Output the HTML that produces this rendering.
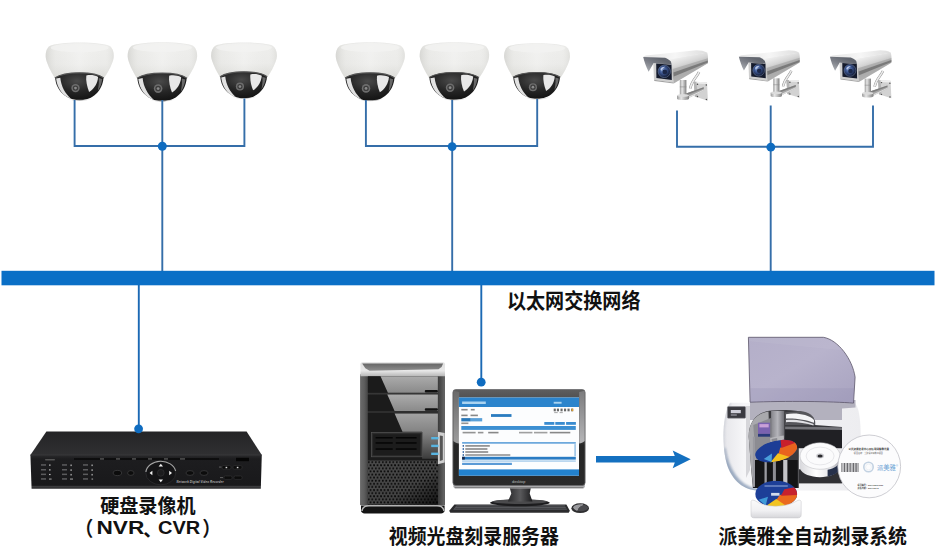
<!DOCTYPE html>
<html lang="zh-CN">
<head>
<meta charset="utf-8">
<title>以太网交换网络</title>
<style>
html,body{margin:0;padding:0;background:#fff;}
body{width:936px;height:557px;overflow:hidden;position:relative;font-family:"Liberation Sans","Noto Sans CJK SC",sans-serif;}
svg{position:absolute;left:0;top:0;display:block;}
.lbl text{font-family:"Liberation Sans","Noto Sans CJK SC",sans-serif;font-weight:bold;fill:#111;}
</style>
</head>
<body>
<svg width="936" height="557" viewBox="0 0 936 557">
<defs>
<linearGradient id="domeBody" x1="0" y1="0" x2="0" y2="1">
  <stop offset="0" stop-color="#e6e6e4"/>
  <stop offset="0.12" stop-color="#eeeeec"/>
  <stop offset="0.6" stop-color="#ebebe9"/>
  <stop offset="1" stop-color="#dcdcd8"/>
</linearGradient>
<linearGradient id="domeBodyH" x1="0" y1="0" x2="1" y2="0">
  <stop offset="0" stop-color="#c8c8c4" stop-opacity="0.6"/>
  <stop offset="0.15" stop-color="#e0e0dc" stop-opacity="0.2"/>
  <stop offset="0.5" stop-color="#ffffff" stop-opacity="0.25"/>
  <stop offset="0.85" stop-color="#f0f0ee" stop-opacity="0"/>
  <stop offset="1" stop-color="#d0d0cc" stop-opacity="0.45"/>
</linearGradient>
<radialGradient id="domeGlass" cx="0.45" cy="0.3" r="0.75">
  <stop offset="0" stop-color="#4a4a4a"/>
  <stop offset="0.5" stop-color="#262626"/>
  <stop offset="1" stop-color="#101010"/>
</radialGradient>
<g id="dome">
  <!-- body -->
  <path d="M-30 3.5C-22 -1.2 22 -1.2 30 3.5C33 5.5 34.3 10 34 14.5C33.5 20 29 29 24 36L-24.5 36C-29 29 -33.5 20 -34 14.5C-34.3 10 -33 5.5 -30 3.5Z" fill="url(#domeBody)"/>
  <path d="M-30 3.5C-22 -1.2 22 -1.2 30 3.5C33 5.5 34.3 10 34 14.5C33.5 20 29 29 24 36L-24.5 36C-29 29 -33.5 20 -34 14.5C-34.3 10 -33 5.5 -30 3.5Z" fill="url(#domeBodyH)"/>
  <!-- top face -->
  <ellipse cx="0" cy="5.2" rx="29" ry="4.6" fill="#f3f3f1" opacity="0.8"/>
  <!-- glass dome -->
  <path d="M-24.5 35C-15 28.5 15 28.5 23.8 35C23 48 13 57.8 0 57.8C-13 57.8 -24 48 -24.5 35Z" fill="url(#domeGlass)"/>
  <!-- rim -->
  <path d="M-24.8 35.3C-15 28.6 15 28.6 24 35.3" fill="none" stroke="#555" stroke-width="1.2"/>
  <!-- left highlight -->
  <path d="M-23.6 36C-22.6 45.5 -17 53.5 -8.5 56.4C-14.5 51 -18.5 44 -19.4 35.2Z" fill="#ececec" opacity="0.95"/>
  <!-- right reflection -->
  <path d="M6.6 33C10.5 32 15 32.6 18.4 34.4C18 40.4 14.4 46.6 9.4 49.4C7.4 44.6 6 38 6.6 33Z" fill="#f2f2f2" opacity="0.95"/>
  <path d="M19 35.5L22.5 36.5C22 41 20.5 45 18 48.5C19 44 19.5 39 19 35.5Z" fill="#999" opacity="0.6"/>
  <!-- lens -->
  <circle cx="-4.2" cy="45.5" r="4.2" fill="#6d6d6d"/>
  <circle cx="-4.2" cy="45.5" r="2.7" fill="#3c3c3c"/>
  <circle cx="-4.2" cy="45.5" r="1.4" fill="#8a8a8a"/>
  <!-- bottom highlight -->
  <path d="M-12 56.3C-5 59 6 59 13 55.8C6 57.5 -5 57.8 -12 56.3Z" fill="#cfcfcf" opacity="0.8"/>
</g>

<linearGradient id="bSide" gradientUnits="userSpaceOnUse" x1="50" y1="15" x2="56.5" y2="34">
  <stop offset="0" stop-color="#eeeeee"/>
  <stop offset="0.35" stop-color="#d8d8d8"/>
  <stop offset="0.7" stop-color="#b8b8b8"/>
  <stop offset="1" stop-color="#c8c8c8"/>
</linearGradient>
<linearGradient id="bTop" x1="0" y1="0" x2="1" y2="0">
  <stop offset="0" stop-color="#e4e4e4"/>
  <stop offset="0.5" stop-color="#f6f6f6"/>
  <stop offset="1" stop-color="#dedede"/>
</linearGradient>
<linearGradient id="bPole" x1="0" y1="0" x2="1" y2="0">
  <stop offset="0" stop-color="#9a9a9a"/>
  <stop offset="0.35" stop-color="#e6e6e6"/>
  <stop offset="0.7" stop-color="#b0b0b0"/>
  <stop offset="1" stop-color="#808080"/>
</linearGradient>
<linearGradient id="bHood" gradientUnits="userSpaceOnUse" x1="20" y1="17" x2="14" y2="31">
  <stop offset="0" stop-color="#62666f"/><stop offset="0.5" stop-color="#7d8088"/><stop offset="1" stop-color="#a4a7ad"/>
</linearGradient>
<radialGradient id="bLens" cx="0.4" cy="0.4" r="0.6">
  <stop offset="0" stop-color="#7f9bd0"/>
  <stop offset="0.45" stop-color="#3b5590"/>
  <stop offset="1" stop-color="#141c34"/>
</radialGradient>
<g id="bullet">
  <!-- wall plate -->
  <path d="M57.7 41.7L71 42.2L71.9 60.8L58.8 56.6Z" fill="#d2d2d2"/>
  <path d="M57.7 41.7L71 42.2L71.1 44L57.9 43.5Z" fill="#eeeeee"/>
  <path d="M57.7 41.7L60.5 41.8L61.5 57.5L58.8 56.6Z" fill="#b4b4b4"/>
  <circle cx="61.5" cy="44.2" r="0.75" fill="#4a4a4a"/><circle cx="70.3" cy="44.9" r="0.75" fill="#4a4a4a"/>
  <circle cx="61.5" cy="56.6" r="0.75" fill="#4a4a4a"/><circle cx="70.4" cy="59.4" r="0.75" fill="#4a4a4a"/>
  <!-- arm -->
  <path d="M50 53.4L67.7 47.2L67.9 50.4L52.7 58Z" fill="#a6a6a6"/>
  <path d="M50 53.4L67.7 47.2L67.8 48.6L50.6 55.2Z" fill="#7e7e7e"/>
  <path d="M51.8 57L67.9 49.6L67.9 50.4L52.7 58Z" fill="#e0e0e0"/>
  <!-- cable -->
  <path d="M63 32C61 37 55.8 40 54.2 48.6" fill="none" stroke="#8e8e8e" stroke-width="2.6"/>
  <path d="M63 32C61 37 55.8 40 54.2 48.6" fill="none" stroke="#ececec" stroke-width="1.7"/>
  <!-- pole -->
  <rect x="43.8" y="40" width="6.6" height="17" fill="url(#bPole)"/>
  <path d="M41 55.5h12v3.2c0 1.7-12 1.7-12 0z" fill="url(#bPole)"/>
  <ellipse cx="47" cy="55.5" rx="6" ry="1.5" fill="#dcdcdc"/>
  <rect x="43.8" y="46.5" width="6.6" height="0.8" fill="#8a8a8a" opacity="0.7"/>
  <!-- body side -->
  <path d="M33.3 19L71.2 12.6C72.2 16 72.2 19.5 71.8 23.2L38 43.3L35.8 42Z" fill="url(#bSide)"/>
  <path d="M36.6 29L71.9 18.2L71.8 23.2L38 43.3L37 37Z" fill="#9a9a9a" opacity="0.55"/>
  <path d="M37.4 32.6L71.9 20.4L71.8 22.6L37.8 36.6Z" fill="#6e6e6e" opacity="0.8"/>
  <!-- top -->
  <path d="M7.2 17C8 16.2 9 15.8 10 15.6L60.3 10.2C64 10.2 69 11 71.2 12.7L33.5 19.4Z" fill="url(#bTop)"/>
  <!-- hood inside -->
  <path d="M7.2 17L29.1 17.7C31.5 18.6 33.8 20 34.9 21.6L35.7 24.8L17.4 23.4L12.6 31.7C10.2 27 8.2 21.5 7.2 17Z" fill="url(#bHood)"/>
  <!-- front frame -->
  <path d="M17.3 23.3L35.7 24.6L37.4 42.6L18 39.8Z" fill="#cfcfcf"/>
  <path d="M18 39.8L37.4 42.6L37.8 43.5L18.4 40.9Z" fill="#a2a2a2"/>
  <!-- lens window -->
  <path d="M20.2 23.6L35.5 24.7L35.8 40L20.4 38Z" fill="#141a2c"/>
  <circle cx="28.3" cy="31.4" r="6.2" fill="url(#bLens)"/>
  <circle cx="28.3" cy="31.4" r="6.2" fill="none" stroke="#8aa0cc" stroke-width="0.6" opacity="0.7"/>
  <circle cx="28.8" cy="31.9" r="2.4" fill="#1b2748"/>
  <path d="M24.4 29C25.4 27.2 27.6 26.4 29.4 26.8C27.8 27.8 26.2 29.2 25.2 31Z" fill="#d4e0f6" opacity="0.8"/>
</g>

<linearGradient id="dvrTop" x1="0" y1="0" x2="0" y2="1">
  <stop offset="0" stop-color="#242426"/>
  <stop offset="1" stop-color="#303032"/>
</linearGradient>
<linearGradient id="dvrFront" x1="0" y1="0" x2="0" y2="1">
  <stop offset="0" stop-color="#2a2a2c"/>
  <stop offset="0.12" stop-color="#1d1d1f"/>
  <stop offset="0.9" stop-color="#19191b"/>
  <stop offset="0.93" stop-color="#3c3c3e"/>
  <stop offset="1" stop-color="#2a2a2c"/>
</linearGradient>

<linearGradient id="pcSilver" x1="0" y1="0" x2="0" y2="1">
  <stop offset="0" stop-color="#8a8a8a"/><stop offset="0.5" stop-color="#e2e2e2"/><stop offset="1" stop-color="#9a9a9a"/>
</linearGradient>
<linearGradient id="pcBody" x1="0" y1="0" x2="0" y2="1">
  <stop offset="0" stop-color="#3a3a3a"/><stop offset="1" stop-color="#1e1e1e"/>
</linearGradient>
<linearGradient id="pcEdgeL" x1="0" y1="0" x2="1" y2="0">
  <stop offset="0" stop-color="#6a6a6a"/><stop offset="0.5" stop-color="#5e5e5e"/><stop offset="1" stop-color="#444"/>
</linearGradient>
<linearGradient id="pcEdgeR" x1="0" y1="0" x2="1" y2="0">
  <stop offset="0" stop-color="#3a3a3a"/><stop offset="0.6" stop-color="#555"/><stop offset="1" stop-color="#6a6a6a"/>
</linearGradient>
<linearGradient id="pcCap" x1="0" y1="0" x2="0" y2="1">
  <stop offset="0" stop-color="#e0e0e0"/><stop offset="0.6" stop-color="#e8e8e8"/><stop offset="1" stop-color="#b8b8b8"/>
</linearGradient>
<linearGradient id="pcBay" x1="0" y1="0" x2="0" y2="1">
  <stop offset="0" stop-color="#ababab"/><stop offset="1" stop-color="#8a8a8a"/>
</linearGradient>
<linearGradient id="pcBay2" x1="0" y1="0" x2="0" y2="1">
  <stop offset="0" stop-color="#a2a2a2"/><stop offset="0.45" stop-color="#808080"/><stop offset="1" stop-color="#3c3c3c"/>
</linearGradient>
<pattern id="pcMesh" x="367.9" y="460.6" width="3.5" height="6.2" patternUnits="userSpaceOnUse">
  <rect width="3.5" height="6.2" fill="#4b4b4b"/>
  <circle cx="0.9" cy="1.55" r="1" fill="#0a0a0a"/>
  <circle cx="2.65" cy="4.65" r="1" fill="#0a0a0a"/>
</pattern>
<linearGradient id="pcMeshShade" x1="0" y1="0" x2="1" y2="1">
  <stop offset="0" stop-color="#000" stop-opacity="0"/><stop offset="0.6" stop-color="#000" stop-opacity="0.1"/><stop offset="1" stop-color="#000" stop-opacity="0.75"/>
</linearGradient>
<linearGradient id="pcBowl" x1="0" y1="0" x2="0" y2="1">
  <stop offset="0" stop-color="#666"/><stop offset="1" stop-color="#8e8e8e"/>
</linearGradient>
<linearGradient id="monNeck" x1="0" y1="0" x2="1" y2="0">
  <stop offset="0" stop-color="#2a2a2c"/><stop offset="0.5" stop-color="#5a5a5c"/><stop offset="1" stop-color="#1c1c1e"/>
</linearGradient>
<linearGradient id="monBezel" x1="0" y1="0" x2="0" y2="1">
  <stop offset="0" stop-color="#5e5e5e"/><stop offset="0.1" stop-color="#505050"/><stop offset="0.5" stop-color="#4a4a4a"/><stop offset="0.58" stop-color="#262626"/><stop offset="1" stop-color="#2a2a2a"/>
</linearGradient>
<linearGradient id="monGlossL" x1="0" y1="0" x2="0" y2="1">
  <stop offset="0" stop-color="#6a6a6a"/><stop offset="1" stop-color="#9c9c9c"/>
</linearGradient>
<linearGradient id="monGloss" x1="0" y1="0" x2="0" y2="1">
  <stop offset="0" stop-color="#7c7c7e"/><stop offset="1" stop-color="#b6b6b8"/>
</linearGradient>

<linearGradient id="prBody" x1="0" y1="0" x2="1" y2="0">
  <stop offset="0" stop-color="#e6e6ea"/><stop offset="0.15" stop-color="#f6f6f8"/><stop offset="1" stop-color="#ededf0"/>
</linearGradient>
<linearGradient id="prPillar" x1="0" y1="0" x2="1" y2="0">
  <stop offset="0" stop-color="#86868c"/><stop offset="0.5" stop-color="#b4b4ba"/><stop offset="1" stop-color="#6c6c72"/>
</linearGradient>
<linearGradient id="prStack" x1="0" y1="0" x2="1" y2="0">
  <stop offset="0" stop-color="#d8d8dc"/><stop offset="0.4" stop-color="#ffffff"/><stop offset="0.75" stop-color="#e4e4e8"/><stop offset="1" stop-color="#a8a8b0"/>
</linearGradient>
<linearGradient id="prTray" x1="0" y1="0" x2="0" y2="1">
  <stop offset="0" stop-color="#fafafa"/><stop offset="0.6" stop-color="#f0f0f2"/><stop offset="1" stop-color="#d6d6da"/>
</linearGradient>
<linearGradient id="prLid" x1="0" y1="0" x2="1" y2="1">
  <stop offset="0" stop-color="#b4afc9"/><stop offset="0.45" stop-color="#b8b3cc"/><stop offset="1" stop-color="#a8a3c0"/>
</linearGradient>
<linearGradient id="prShadow" x1="0" y1="0" x2="1" y2="0.6">
  <stop offset="0" stop-color="#7f93ad" stop-opacity="0.75"/><stop offset="0.5" stop-color="#aab6c8" stop-opacity="0.6"/><stop offset="1" stop-color="#d4d8e0" stop-opacity="0.5"/>
</linearGradient>
<filter id="prBlur" x="-20%" y="-20%" width="140%" height="140%"><feGaussianBlur stdDeviation="1.3"/></filter>

</defs>
<use href="#dome" transform="translate(79.7 42.6)"/>
<use href="#dome" transform="translate(162.4 42.2) scale(1.02)"/>
<use href="#dome" transform="translate(244 42.6) scale(0.966)"/>
<use href="#dome" transform="translate(370.3 42.2) scale(1.015)"/>
<use href="#dome" transform="translate(454.4 42.2) scale(1.02 1.0)"/>
<use href="#dome" transform="translate(537 43.2) scale(0.967)"/>
<use href="#bullet" transform="translate(636 40)"/>
<use href="#bullet" transform="translate(732.1 40.7) scale(0.94)"/>
<use href="#bullet" transform="translate(823.1 40.6) scale(0.95)"/>

<g id="dvr">
  <path d="M46.4 431.6H246.6L261.8 455H30.4Z" fill="url(#dvrTop)"/>
  <path d="M30.4 455H261.8L260.8 488.7H31.6Z" fill="url(#dvrFront)"/>
  <path d="M30.4 455H261.8" stroke="#3a3a3c" stroke-width="0.8"/>
  <!-- slot -->
  <rect x="74" y="458.2" width="145" height="1.6" fill="#0a0a0a"/>
  <g fill="#6a6a6a">
    <rect x="100" y="458.4" width="4" height="1.1"/><rect x="116" y="458.4" width="4" height="1.1"/><rect x="132" y="458.4" width="4" height="1.1"/><rect x="148" y="458.4" width="4" height="1.1"/><rect x="164" y="458.4" width="4" height="1.1"/><rect x="180" y="458.4" width="5" height="1.1"/>
  </g>
  <rect x="45" y="459" width="10" height="1.4" rx="0.7" fill="#555"/>
  <!-- IR window -->
  <rect x="236" y="457.8" width="13" height="3.4" fill="#050505"/>
  <!-- left label grid -->
  <g fill="#5c5c5e">
    <rect x="41" y="464.2" width="5" height="1.5"/><rect x="41" y="469" width="5" height="1.5"/><rect x="41" y="473.6" width="5" height="1.5"/><rect x="41" y="478.2" width="5" height="1.5"/>
    <rect x="62" y="464.2" width="5" height="1.5"/><rect x="62" y="469" width="5" height="1.5"/><rect x="62" y="473.6" width="5" height="1.5"/><rect x="62" y="478.2" width="5" height="1.5"/>
    <rect x="83" y="464.2" width="5" height="1.5"/><rect x="83" y="469" width="5" height="1.5"/><rect x="83" y="473.6" width="5" height="1.5"/><rect x="83" y="478.2" width="5" height="1.5"/>
  </g>
  <g fill="#b8b8b8">
    <rect x="49" y="464.5" width="1.6" height="1.2"/><rect x="49" y="469.3" width="1.6" height="1.2"/><rect x="49" y="473.9" width="1.6" height="1.2"/><rect x="49" y="478.6" width="2.6" height="0.9"/>
    <rect x="70.5" y="464.5" width="1.2" height="1.6"/><rect x="70.5" y="469.3" width="1.2" height="1.6"/><rect x="70.5" y="473.9" width="1.2" height="1.6"/><rect x="70" y="478.6" width="3" height="0.9"/>
    <rect x="91.5" y="464.5" width="1.2" height="1.6"/><rect x="91.5" y="469.3" width="1.2" height="1.6"/><rect x="91.5" y="473.9" width="1.2" height="1.6"/><rect x="91.5" y="478.6" width="1.6" height="0.9"/>
  </g>
  <!-- buttons -->
  <g fill="#0c0c0c" stroke="#4a4a4c" stroke-width="0.6">
    <ellipse cx="117.4" cy="473" rx="4.2" ry="2.6"/><ellipse cx="130.8" cy="473" rx="3.2" ry="2.4"/>
    <ellipse cx="190" cy="473" rx="4" ry="2.4"/><ellipse cx="204" cy="473" rx="4" ry="2.4"/>
  </g>
  <!-- d-pad -->
  <ellipse cx="160.8" cy="473" rx="15" ry="11.8" fill="#141416" stroke="#2c2c2e" stroke-width="0.8"/>
  <path d="M145.9 472A15 11.8 0 0 1 175.6 471" fill="none" stroke="#a4a4a4" stroke-width="1.1"/>
  <circle cx="160.8" cy="472.8" r="3.4" fill="#1c1c1e" stroke="#3c3c3e" stroke-width="0.5"/>
  <g fill="#f2f2f2">
    <path d="M160.8 463.8l2.2 2.8h-4.4z"/><path d="M160.8 482.2l2.2-2.8h-4.4z"/>
    <path d="M149.6 473l2.8-2.2v4.4z"/><path d="M172 473l-2.8-2.2v4.4z"/>
  </g>
  <!-- right buttons -->
  <g fill="#0c0c0c" stroke="#3c3c3e" stroke-width="0.5">
    <rect x="222" y="465.6" width="9" height="3.6" rx="1.2"/><rect x="233" y="465.6" width="9" height="3.6" rx="1.2"/>
    <rect x="224" y="476" width="8" height="3.4" rx="1.2"/><rect x="234" y="476" width="8" height="3.4" rx="1.2"/>
  </g>
  <rect x="225.6" y="466.8" width="1.6" height="1.4" fill="#ddd"/><rect x="236.8" y="466.8" width="1.6" height="1.4" fill="#ddd"/>
  <rect x="219" y="466.6" width="2.4" height="0.9" fill="#666"/><rect x="220" y="477.2" width="3" height="0.9" fill="#666"/>
  <text x="176.6" y="483.3" font-size="2.9" font-style="italic" font-weight="bold" fill="#b4b4b4" font-family="'Liberation Sans',sans-serif" textLength="47">Network Digital Video Recorder</text>
</g>
<g id="tower">
<path d="M361 505.5H444.6V510.5C444.6 512.3 443 513.4 441 513.4H364.6C362.6 513.4 361 512.3 361 510.5Z" fill="#141414"/>
<rect x="360.4" y="374.4" width="84.6" height="130.7" fill="url(#pcBody)" />
<rect x="360.4" y="374.4" width="7.5" height="130.7" fill="url(#pcEdgeL)" />
<rect x="437.9" y="374.4" width="7.0" height="130.7" fill="url(#pcEdgeR)" />
<path d="M362 511C362.5 507.5 365 505.8 369 505.8H437C441 505.8 443.4 507.5 444 511" fill="none" stroke="#b4b4b4" stroke-width="1.5"/>
<path d="M360.4 364.3C360.4 363 361.4 362.3 362.6 362.3H442.8C444 362.3 445 363 445 364.3V376.2H360.4Z" fill="url(#pcCap)"/>
<path d="M362.2 363.4L443.1 363.4L441.6 367.1L438.5 369.2L369.5 370.8L365.3 368.3Z" fill="url(#pcBowl)"/>
<rect x="367.9" y="376.3" width="70.0" height="16.5" fill="#1b1b1b" />
<path d="M380.5 376.3L437.9 376.3L437.9 392.7L387.9 392.7Z" fill="url(#pcBay)"/>
<rect x="424.8" y="390.0" width="13.1" height="2.4" fill="#111" rx="1"/>
<rect x="367.9" y="394.6" width="70.0" height="16.5" fill="#1b1b1b" />
<path d="M387.3 394.6L437.9 394.6L437.9 411.1L394.6 411.1Z" fill="url(#pcBay)"/>
<rect x="424.8" y="408.3" width="13.1" height="2.4" fill="#111" rx="1"/>
<rect x="367.9" y="412.9" width="70.0" height="47.6" fill="#1b1b1b" />
<path d="M394.6 413.5L437.9 413.5L437.9 458.7L422.1 458.7L422.1 431.8L402.5 431.8Z" fill="url(#pcBay2)"/>
<rect x="371.4" y="432.4" width="50.7" height="24.4" fill="#2b2b2b" stroke="#555" stroke-width="0.7"/>
<rect x="373.2" y="434.3" width="47.0" height="20.8" fill="#1c1c1c" />
<rect x="375.6" y="437.0" width="17.1" height="1.5" fill="#050505" />
<rect x="395.8" y="437.0" width="20.8" height="1.5" fill="#050505" />
<rect x="375.6" y="442.2" width="17.1" height="1.5" fill="#050505" />
<rect x="395.8" y="442.2" width="20.8" height="1.5" fill="#050505" />
<rect x="375.6" y="448.3" width="17.1" height="1.5" fill="#050505" />
<rect x="395.8" y="448.3" width="20.8" height="1.5" fill="#050505" />
<path d="M437.9 431.8L444.7 433.1L444.7 462.4L437.9 464.2Z" fill="#cfcfcf"/>
<path d="M439.8 435.5L442.8 436.1L442.8 459.9L439.8 461.1Z" fill="#555"/>
<rect x="431.2" y="437.0" width="7.3" height="2.4" fill="#58b4e0" />
<rect x="431.2" y="444.7" width="7.3" height="2.4" fill="#58b4e0" />
<rect x="431.2" y="452.6" width="7.3" height="2.4" fill="#58b4e0" />
<rect x="367.9" y="460.5" width="70.0" height="44.0" fill="url(#pcMesh)" />
<rect x="367.9" y="460.5" width="70.0" height="44.0" fill="url(#pcMeshShade)" />
</g>
<g id="monitor">
<path d="M454.4 504.5L566.4 504.5L569.9 510.8L568.7 512.8L450.3 512.8L449.2 510.8Z" fill="#2b2b2d"/>
<path d="M456.7 505.3L564.7 505.3L567.0 509.7L453.2 509.7Z" fill="#55565a"/>
<path d="M456.7 506.5L565.3 506.5L565.6 507.1L456.4 507.1Z" fill="#101010" opacity="0.55"/>
<path d="M455.5 507.9L566.1 507.9L566.4 508.5L455.2 508.5Z" fill="#101010" opacity="0.55"/>
<ellipse cx="580.2" cy="508.2" rx="8.8" ry="4.9" fill="#2e2e30"/>
<path d="M573 507.2C575 504.6 579.5 503.8 583 504.6C580 505.6 577.6 507.6 577 510.6C575 510 573.4 508.8 573 507.2Z" fill="#9a9a9e"/>
<path d="M577 510.6C577.6 507.6 580 505.6 583 504.6C585.6 505.2 587.6 506.4 588.4 508C587 510.8 581.6 512 577 510.6Z" fill="#4a4a4e"/>
<path d="M577 510.6C577.6 507.6 580 505.6 583 504.6" fill="none" stroke="#c8c8cc" stroke-width="0.7"/>
<ellipse cx="519.9" cy="502.8" rx="29.9" ry="3.4" fill="#1c1c1e"/>
<ellipse cx="519.9" cy="501.6" rx="27.6" ry="2.3" fill="#4a4a4c"/>
<path d="M509.0 484.9L531.4 484.9L529.7 493.6L532.5 501.6L507.8 501.6L511.3 493.6Z" fill="url(#monNeck)"/>
<path d="M453.4 483H584.8V486.2C584.8 487.6 583.6 488.6 582.2 488.6H456C454.6 488.6 453.4 487.6 453.4 486.2Z" fill="#a9a9ab"/>
<path d="M455 487.6H583.2" stroke="#6e6e70" stroke-width="0.8"/>
<rect x="452.9" y="389.5" width="132.2" height="96.0" fill="url(#monBezel)" rx="3" stroke="#6a6a6c" stroke-width="0.8"/>
<path d="M579.2 392L584.7 390.8V441C583 442.6 581 443.4 579.2 443.6Z" fill="url(#monGloss)"/>
<path d="M453.4 390.8L459.2 392V443.6C457 443.4 455 442.6 453.4 441Z" fill="url(#monGlossL)"/>
<rect x="458.9" y="397.5" width="120.1" height="78.2" fill="#fcfdfe" />
<rect x="458.9" y="397.5" width="120.1" height="9.5" fill="#2b84cc" />
<rect x="458.9" y="469.4" width="120.1" height="6.3" fill="#2382ce" />
<rect x="462.1" y="401.5" width="23.7" height="2.5" fill="#bfe0f6" opacity="0.85"/>
<rect x="553.7" y="401.8" width="7.9" height="1.9" fill="#bfe0f6" opacity="0.85"/>
<rect x="491.0" y="414.1" width="20.5" height="2.8" fill="#2a7cc0" />
<rect x="461.3" y="418.1" width="9.5" height="3.3" fill="#2a78b8" />
<rect x="470.8" y="418.1" width="11.4" height="3.3" fill="#5aa0d8" />
<rect x="544.3" y="422.0" width="10.0" height="2.8" fill="#3a8cd0" />
<rect x="555.3" y="422.0" width="9.5" height="2.8" fill="#3a8cd0" />
<rect x="566.1" y="422.0" width="9.8" height="2.8" fill="#3a8cd0" />
<rect x="461.3" y="426.0" width="114.5" height="3.9" fill="#3c8fd2" />
<rect x="462.1" y="442.2" width="113.7" height="1.4" fill="#4a94d4" />
<rect x="462.1" y="456.8" width="113.7" height="2.8" fill="#2a7cc4" />
<rect x="462.1" y="456.8" width="2.7" height="2.8" fill="#16284a" />
<rect x="462.1" y="460.6" width="113.7" height="0.9" fill="#7ab2e0" />
<rect x="462.1" y="462.8" width="49.8" height="2.2" fill="#5a9ad6" />
<rect x="574.3" y="444.1" width="1.6" height="12.3" fill="#9cc4e6" />
<rect x="461.3" y="408.9" width="6.3" height="1.6" fill="#555" opacity="0.7"/>
<rect x="470.8" y="408.9" width="3.9" height="1.6" fill="#555" opacity="0.7"/>
<rect x="461.3" y="414.6" width="6.3" height="1.6" fill="#555" opacity="0.7"/>
<rect x="470.5" y="414.6" width="7.4" height="1.6" fill="#555" opacity="0.7"/>
<rect x="461.3" y="422.5" width="7.1" height="1.6" fill="#666" opacity="0.7"/>
<rect x="462.6" y="431.8" width="13.0" height="1.6" fill="#666" opacity="0.7"/>
<rect x="477.9" y="431.8" width="5.5" height="1.6" fill="#666" opacity="0.7"/>
<rect x="488.2" y="431.8" width="10.3" height="1.6" fill="#555" opacity="0.7"/>
<rect x="519.0" y="431.8" width="13.4" height="1.6" fill="#777" opacity="0.7"/>
<rect x="534.0" y="431.8" width="13.4" height="1.6" fill="#777" opacity="0.7"/>
<rect x="549.8" y="431.8" width="20.5" height="1.6" fill="#555" opacity="0.7"/>
<rect x="465.3" y="445.1" width="24.5" height="1.6" fill="#555" opacity="0.7"/>
<rect x="465.3" y="448.2" width="22.1" height="1.6" fill="#555" opacity="0.7"/>
<rect x="465.3" y="451.2" width="22.9" height="1.6" fill="#555" opacity="0.7"/>
<rect x="465.3" y="454.2" width="45.0" height="1.6" fill="#666" opacity="0.7"/>
<rect x="462.6" y="445.1" width="1.4" height="1.6" fill="#2a5fa0" />
<rect x="462.6" y="448.2" width="1.4" height="1.6" fill="#2a5fa0" />
<rect x="462.6" y="451.2" width="1.4" height="1.6" fill="#2a5fa0" />
<rect x="462.6" y="454.2" width="1.4" height="1.6" fill="#2a5fa0" />
<rect x="553.7" y="408.6" width="2.1" height="2.7" fill="#444" opacity="0.8"/>
<rect x="556.9" y="408.6" width="2.1" height="2.7" fill="#444" opacity="0.8"/>
<rect x="560.5" y="408.6" width="2.1" height="2.7" fill="#444" opacity="0.8"/>
<rect x="564.0" y="408.6" width="2.1" height="2.7" fill="#444" opacity="0.8"/>
<rect x="567.5" y="408.6" width="2.1" height="2.7" fill="#444" opacity="0.8"/>
<rect x="571.1" y="408.6" width="2.1" height="2.7" fill="#444" opacity="0.8"/>
<rect x="571.6" y="408.7" width="1.6" height="2.4" fill="#e0a030" />
<rect x="554.2" y="412.2" width="3.5" height="0.9" fill="#777" opacity="0.7"/>
<rect x="559.6" y="412.2" width="3.2" height="0.9" fill="#777" opacity="0.7"/>
<text x="518.7" y="482.6" font-size="3.8" fill="#bdbdbd" text-anchor="middle" font-family="'Liberation Sans',sans-serif">desktop</text>
</g>
<g id="printer">
<path d="M730.0 402.8L853.7 402.8C858.4 404.0 860.7 418.0 860.7 436.7L860.7 482.2C860.7 488.0 856.0 490.4 849.0 490.4L755.7 490.4C741.7 489.2 730.0 478.7 725.8 460.0C721.8 441.3 722.5 415.7 730.0 402.8Z" fill="url(#prBody)" />
<clipPath id="prBodyClip"><path d="M730.0 402.8L853.7 402.8C858.4 404.0 860.7 418.0 860.7 436.7L860.7 482.2C860.7 488.0 856.0 490.4 849.0 490.4L755.7 490.4C741.7 489.2 730.0 478.7 725.8 460.0C721.8 441.3 722.5 415.7 730.0 402.8Z"/></clipPath>
<g clip-path="url(#prBodyClip)"><path d="M723.0 448.3C726.5 469.3 737.0 488.0 755.7 490.8L772.0 490.8" fill="none" stroke="#8094b0" stroke-width="5" opacity="0.75" filter="url(#prBlur)"/>
<path d="M730.0 402.8C722.5 415.7 721.8 441.3 725.8 460.0" fill="none" stroke="#c9ccd4" stroke-width="2.4" opacity="0.8" filter="url(#prBlur)"/></g>
<path d="M750 400H855.5V407.5L842 408.5V420H750Z" fill="#b3b1be"/>
<path d="M746 406H750V470L746 478Z" fill="#d6d6da"/>
<rect x="727.4" y="406.6" width="18.2" height="11.6" rx="0.8" fill="#3a3a40" stroke="#8a8a90" stroke-width="0.5"/>
<rect x="730.8" y="410" width="10" height="3.2" fill="#d0d0da"/>
<rect x="730.8" y="414.4" width="6" height="1.2" fill="#9a9aa4"/>
<path d="M748.7 436.7C748.7 420.3 758.0 411.5 772.0 410.5L786.0 410.1C800.0 410.1 811.7 413.3 815.2 421.5L815.2 425.0L842.0 426.9L842.0 483.3L798.8 483.3L798.8 488.0L752.9 488.0L751.0 467.0Z" fill="#3a3a3e" />
<path d="M748.7 436.7C748.7 422.7 755.7 413.3 768.5 411.5L770.1 460.0L754.5 467.0L753.3 486.8L751.0 467.0Z" fill="#a9a9ad" />
<path d="M753.3 425.0L770.8 418.0L770.8 457.7L755.7 460.0Z" fill="#8c8c92" />
<rect x="758.0" y="422.7" width="12.1" height="11.2" fill="#7a62b0"/>
<rect x="759.4" y="424.1" width="9.3" height="3.3" fill="#c9a0d8"/>
<rect x="758.0" y="433.9" width="12.1" height="2.8" fill="#2a3a7a"/>
<rect x="771.1" y="411.0" width="13.1" height="26.8" fill="url(#prPillar)"/>
<path d="M770.1 437.8L783.7 435.5L785.1 453.0L771.5 456.5Z" fill="#b8b8bc" />
<path d="M771.5 439.0L777.1 438.1L778.1 454.2L772.5 455.8Z" fill="#8a8a90" />
<path d="M785.1 412.4L800.0 411.0C809.3 412.2 814.0 415.7 814.9 421.5L814.9 425.0L785.1 425.0Z" fill="#55555a" />
<path d="M786.0 414.3C795.3 412.4 808.2 414.3 814.0 419.9L814.0 422.7C807.0 419.9 795.3 418.0 786.0 418.5Z" fill="#f4f4f6" />
<path d="M786.0 419.9C795.3 418.9 807.0 421.3 813.5 424.1L813.5 425.5C805.8 423.1 795.3 421.7 786.0 422.2Z" fill="#e0e0e4" />
<path d="M785.1 426.4L842.0 427.3L842.0 448.3L785.1 448.3Z" fill="#202024" />
<path d="M785.1 426.4L842.0 427.3L842.0 430.1L785.1 429.2Z" fill="#75757a" />
<path d="M798.8 448.3L842.0 448.3L842.0 483.3L798.8 483.3Z" fill="#e9e9ec" />
<path d="M798.8 469.3L842.0 469.3L842.0 483.3L798.8 483.3Z" fill="#303034" />
<path d="M800.0 456.5L800.0 468.6C803.7 479.6 834.6 480.5 840.2 468.6L840.2 456.5Z" fill="url(#prStack)" />
<ellipse cx="820.1" cy="456.0" rx="20.1" ry="13.3" fill="#fbfbfc" stroke="#b8b8bc" stroke-width="0.5"/>
<ellipse cx="820.1" cy="456.0" rx="14.0" ry="8.9" fill="none" stroke="#e2e2e6" stroke-width="0.8"/>
<ellipse cx="820.1" cy="455.8" rx="4.0" ry="2.6" fill="#d0d0d4" />
<ellipse cx="820.1" cy="456.0" rx="2.6" ry="1.6" fill="#2a2a2e" />
<path d="M827.6 469.8C834.6 468.6 839.2 465.1 840.2 460.5L840.2 468.6C838.1 473.3 833.4 475.6 827.6 476.6Z" fill="#26304a" />
<path d="M754.5 460.0L797.7 460.0L797.7 488.0L753.3 488.0Z" fill="#141416" />
<rect x="764.5" y="460.0" width="2.3" height="26.1" fill="#9a9aa0"/>
<rect x="772.9" y="460.0" width="3.0" height="26.1" fill="#8e8e94"/>
<rect x="783.2" y="460.0" width="4.2" height="26.1" fill="#c4c4c8"/>
<rect x="752.9" y="436.7" width="2.1" height="50.2" fill="#9a9aa0"/>
<g transform="rotate(-14 776.2 451.1)">
<clipPath id="cd1"><ellipse cx="776.2" cy="451.1" rx="21.5" ry="10.3"/></clipPath>
<g clip-path="url(#cd1)">
<rect x="754.7" y="440.9" width="42.9" height="20.5" fill="#1c3d96"/>
<path d="M773.9 461.4L780.9 448.8L797.7 446.5L797.7 461.4Z" fill="#e8641e"/>
<path d="M766.9 461.4L777.4 453.5L790.2 461.4Z" fill="#f4c21e"/>
<path d="M783.2 440.9L797.7 440.9L797.7 447.6L782.0 449.3Z" fill="#c8202c"/>
<path d="M762.2 455.8L771.5 452.3L769.2 460.5Z" fill="#4aa0dc"/>
</g></g>
<clipPath id="cd2"><ellipse cx="776.2" cy="493.9" rx="21.0" ry="13.1"/></clipPath>
<g clip-path="url(#cd2)">
<rect x="755.2" y="480.8" width="42.0" height="26.1" fill="#1d3f98"/>
<path d="M771.5 506.9L779.7 495.0L797.2 492.7L797.2 506.9Z" fill="#ea6a1e"/>
<path d="M764.5 506.9L776.2 499.0L787.9 506.9Z" fill="#f2c320"/>
<path d="M784.4 489.2L797.2 486.8L797.2 495.0L780.9 495.7Z" fill="#c6222e"/>
<path d="M758.7 499.7L768.0 496.7L765.7 505.5Z" fill="#3f9bd8"/>
<rect x="771.1" y="492.9" width="8.4" height="2.8" fill="#e8ecf4" opacity="0.9"/>
<rect x="764.5" y="485.4" width="23.3" height="1.2" fill="#9fb4e0" opacity="0.8"/>
</g>
<path d="M751.0 501.6C751.5 499.7 753.3 499.7 755.7 501.1C765.0 507.9 786.0 507.9 796.5 501.1C798.8 499.7 800.5 499.7 801.2 501.6L801.2 514.9C801.2 517.2 799.5 517.9 797.7 517.9L754.5 517.9C752.2 517.9 751.0 517.2 751.0 514.9Z" fill="url(#prTray)" stroke="#c4c4c8" stroke-width="0.5"/>
<path d="M748.4 337.3L823.4 337.3C838.0 339.7 852.5 359.1 855.1 377.2L853.5 403.1C833.1 401.4 784.7 400.8 750.1 402.2Z" fill="url(#prLid)" stroke="#5a5468" stroke-width="0.8" stroke-linejoin="round"/>
<path d="M750.7 388.2L853.8 388.2L853.5 402.7C833.1 401.1 784.7 400.5 750.7 401.9Z" fill="#8f88ac" opacity="0.22"/>
<path d="M749.4 338.1L823.4 338.1C831.5 339.4 838.0 344.5 842.8 350.2L749.4 341.3Z" fill="#ffffff" opacity="0.05"/>
<circle cx="869.2" cy="466.4" r="31.4" fill="#fcfcfd" stroke="#c2c2c8" stroke-width="0.8"/>
<circle cx="868.5" cy="467" r="4.7" fill="none" stroke="#c3d2e2" stroke-width="1.6"/>
<circle cx="868.5" cy="467" r="2.9" fill="none" stroke="#e6ecf2" stroke-width="0.7"/>
<rect x="841.40" y="463" width="1.00" height="9" fill="#6a6a6e"/>
<rect x="842.90" y="463" width="0.50" height="9" fill="#6a6a6e"/>
<rect x="844.00" y="463" width="1.30" height="9" fill="#6a6a6e"/>
<rect x="845.90" y="463" width="0.60" height="9" fill="#6a6a6e"/>
<rect x="847.00" y="463" width="1.40" height="9" fill="#6a6a6e"/>
<rect x="849.10" y="463" width="0.60" height="9" fill="#6a6a6e"/>
<rect x="850.20" y="463" width="1.20" height="9" fill="#6a6a6e"/>
<rect x="852.00" y="463" width="0.50" height="9" fill="#6a6a6e"/>
<rect x="853.00" y="463" width="1.30" height="9" fill="#6a6a6e"/>
<rect x="854.90" y="463" width="0.80" height="9" fill="#6a6a6e"/>
<rect x="856.20" y="463" width="1.20" height="9" fill="#6a6a6e"/>
<rect x="857.90" y="463" width="0.60" height="9" fill="#6a6a6e"/>
<text x="877" y="470.2" font-size="6.3" fill="#6aa2d4" font-family="'Liberation Sans','Noto Sans CJK SC',sans-serif">派美雅<tspan font-size="2.6" dy="-3.2">®</tspan></text>
<text x="868.8" y="449.6" font-size="2.56" font-weight="bold" fill="#333" text-anchor="middle" font-family="'Liberation Sans','Noto Sans CJK SC',sans-serif">公共资源交易中心开标现场影像光盘</text>
<text x="868.4" y="454.4" font-size="2.1" fill="#555" text-anchor="middle" font-family="'Liberation Sans','Noto Sans CJK SC',sans-serif">项目名称：某建设工程施工项目</text>
<text x="857.6" y="485.6" font-size="2.1" font-weight="bold" fill="#444" font-family="'Liberation Sans','Noto Sans CJK SC',sans-serif">项目编号：2017-0516-0031</text>
<text x="857.6" y="489" font-size="2.1" font-weight="bold" fill="#444" font-family="'Liberation Sans','Noto Sans CJK SC',sans-serif">开标日期：2017-05-16</text>
</g>

<!-- network lines -->
<g id="lines" fill="none" stroke="#356ea9" stroke-width="1.9">
  <path d="M74.6 100V146H244.4V98.5M162.3 100V271"/>
  <path d="M365.9 100V146H537.2V99M452.2 100V271"/>
  <path d="M677 110.5V146.8H873V105.5M770.7 105.5V271"/>
  <path d="M138.8 285V429" stroke="#1b69b4"/>
  <path d="M481.3 285V383" stroke="#1b69b4"/>
</g>
<g fill="#0f6cc0">
  <circle cx="162.3" cy="146.2" r="4.5"/>
  <circle cx="452.1" cy="146.6" r="4.4"/>
  <circle cx="770.8" cy="147.2" r="4.4"/>
  <circle cx="138.6" cy="428.8" r="4.4"/>
  <circle cx="481.2" cy="382.2" r="4.4"/>
</g>
<rect x="1.5" y="270.8" width="933" height="14.5" fill="#0a6fc6"/>
<!-- arrow -->
<path d="M596 456H676V462.4H596Z M672.7 450.4L690.7 459.3L672.7 468.2L676 459.3Z" fill="#1470c0"/>
<!-- labels -->
<g class="lbl">
<text transform="translate(506.9 308.4) scale(1 1.1)" font-size="19.1">以太网交换网络</text>
<text transform="translate(100.2 512.8) scale(1 1.04)" font-size="19.1">硬盘录像机</text>
<text transform="translate(74.8 535.6) scale(1 1.08)" font-size="18.6" id="p1">（</text>
<text x="96.5" y="534.2" font-size="18.6" textLength="47.8" lengthAdjust="spacingAndGlyphs" id="p2">NVR</text>
<text x="143.2" y="535.6" font-size="18.6" id="p3">、</text>
<text x="158" y="534.2" font-size="18.6" textLength="42.2" lengthAdjust="spacingAndGlyphs" id="p4">CVR</text>
<text transform="translate(202.3 535.6) scale(1 1.08)" font-size="18.6" id="p5">）</text>
<text transform="translate(388.8 544) scale(1 1.1)" font-size="18.9">视频光盘刻录服务器</text>
<text transform="translate(718.6 544.3) scale(1 1.1)" font-size="18.85">派美雅全自动刻录系统</text>
</g>
</svg>
</body>
</html>
